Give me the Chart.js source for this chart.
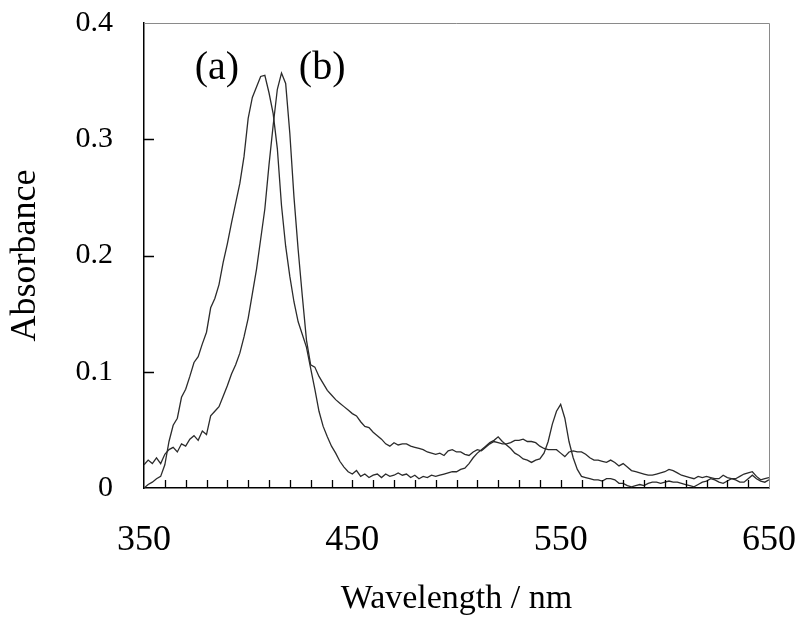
<!DOCTYPE html>
<html>
<head>
<meta charset="utf-8">
<script src="https://cdn.jsdelivr.net/npm/chart.js@4.4.1/dist/chart.umd.min.js"></script>
<style>
  html, body { margin: 0; padding: 0; background: #ffffff; }
  #wrap { width: 799px; height: 617px; }
</style>
</head>
<body>
<div id="wrap"><canvas id="c" width="799" height="617"></canvas></div>
<script>
// Wavelength grid (nm), 2 nm steps from 350 to 650
const wavelengths = Array.from({length: 151}, (_, i) => 350 + 2 * i);

// Curve (a): Soret band near 407 nm, bands near 520 and 550 nm
const curveA = [
  0.000,0.003,0.005,0.008,0.010,0.020,0.040,0.054,0.060,0.078,
  0.085,0.096,0.108,0.113,0.124,0.134,0.155,0.163,0.175,0.194,
  0.210,0.228,0.245,0.262,0.285,0.318,0.336,0.345,0.354,0.355,
  0.340,0.322,0.292,0.243,0.208,0.182,0.160,0.143,0.132,0.121,
  0.103,0.085,0.066,0.053,0.044,0.036,0.030,0.023,0.018,0.014,
  0.012,0.015,0.010,0.012,0.009,0.011,0.012,0.009,0.012,0.010,
  0.011,0.013,0.011,0.012,0.009,0.011,0.008,0.010,0.009,0.011,
  0.010,0.011,0.012,0.013,0.014,0.014,0.016,0.017,0.021,0.026,
  0.030,0.033,0.036,0.039,0.041,0.044,0.040,0.037,0.034,0.030,
  0.028,0.025,0.024,0.022,0.024,0.025,0.030,0.040,0.055,0.066,
  0.072,0.060,0.040,0.026,0.016,0.010,0.009,0.008,0.007,0.007,
  0.006,0.008,0.008,0.007,0.004,0.004,0.002,0.001,0.002,0.003,
  0.002,0.004,0.005,0.005,0.004,0.005,0.006,0.005,0.005,0.004,
  0.003,0.002,0.001,0.003,0.005,0.006,0.008,0.007,0.005,0.004,
  0.006,0.008,0.007,0.005,0.005,0.008,0.011,0.008,0.006,0.005,
  0.007
];

// Curve (b): Soret band near 416 nm, broad band near 530 nm
const curveB = [
  0.020,0.024,0.021,0.026,0.021,0.029,0.033,0.035,0.031,0.038,
  0.036,0.042,0.045,0.041,0.049,0.046,0.062,0.066,0.070,0.079,
  0.088,0.098,0.106,0.116,0.130,0.146,0.167,0.188,0.214,0.240,
  0.278,0.312,0.343,0.357,0.348,0.305,0.250,0.205,0.165,0.127,
  0.106,0.104,0.096,0.090,0.084,0.080,0.076,0.073,0.070,0.067,
  0.064,0.062,0.057,0.053,0.052,0.048,0.045,0.042,0.038,0.036,
  0.039,0.037,0.038,0.038,0.036,0.035,0.034,0.033,0.031,0.030,
  0.029,0.030,0.028,0.032,0.033,0.031,0.031,0.029,0.028,0.031,
  0.033,0.032,0.035,0.038,0.040,0.039,0.038,0.038,0.039,0.041,
  0.041,0.042,0.040,0.040,0.039,0.036,0.034,0.033,0.033,0.033,
  0.030,0.027,0.031,0.032,0.031,0.031,0.029,0.026,0.024,0.024,
  0.023,0.022,0.024,0.022,0.019,0.021,0.018,0.015,0.014,0.013,
  0.012,0.011,0.011,0.012,0.013,0.014,0.016,0.015,0.013,0.011,
  0.010,0.009,0.008,0.010,0.009,0.010,0.009,0.008,0.008,0.011,
  0.009,0.008,0.008,0.010,0.012,0.013,0.014,0.010,0.007,0.008,
  0.009
];

const xTickLabels = ['350', '450', '550', '650'];
const yTickLabels = ['0', '0.1', '0.2', '0.3', '0.4'];
const minorTicksX = [360,370,380,390,400,410,420,430,440,450,460,470,480,490,500,
                     510,520,530,540,550,560,570,580,590,600,610,620,630,640];
const curveNames = ['(a)', '(b)'];
const curveNameAt = [{x: 385, y: 0.361}, {x: 435.5, y: 0.361}];

const SERIF = '"Liberation Serif", "Times New Roman", serif';
const LINE = '#2b2b2b';

function fixBox(s) {
  s.paddingLeft = 0; s.paddingRight = 0; s.paddingTop = 0; s.paddingBottom = 0;
}

const framePlugin = {
  id: 'frame',
  afterDatasetsDraw(chart) {
    const {ctx, chartArea: a, scales: {x, y}} = chart;
    ctx.save();
    // top and right border (gray)
    ctx.strokeStyle = '#8a8a8a';
    ctx.lineWidth = 1;
    ctx.beginPath();
    ctx.moveTo(a.left, a.top + 0.5);
    ctx.lineTo(a.right + 0.5, a.top + 0.5);
    ctx.lineTo(a.right + 0.5, a.bottom);
    ctx.stroke();
    // inward ticks on x axis
    ctx.strokeStyle = '#000';
    ctx.lineWidth = 1.3;
    ctx.beginPath();
    minorTicksX.forEach(v => {
      const px = Math.round(x.getPixelForValue(v)) + 0.5;
      ctx.moveTo(px, a.bottom);
      ctx.lineTo(px, a.bottom - 8);
    });
    // inward ticks on y axis
    [0.1, 0.2, 0.3].forEach(v => {
      const py = Math.round(y.getPixelForValue(v)) + 0.5;
      ctx.moveTo(a.left, py);
      ctx.lineTo(a.left + 10, py);
    });
    ctx.stroke();
    // curve names
    ctx.fillStyle = '#000';
    ctx.font = '40px ' + SERIF;
    ctx.textAlign = 'center';
    ctx.textBaseline = 'middle';
    curveNames.forEach((t, i) => {
      ctx.fillText(t, x.getPixelForValue(curveNameAt[i].x), y.getPixelForValue(curveNameAt[i].y));
    });
    ctx.restore();
  }
};

new Chart(document.getElementById('c'), {
  type: 'line',
  data: {
    datasets: [
      { label: curveNames[0], data: wavelengths.map((w, i) => ({x: w, y: curveA[i]})) },
      { label: curveNames[1], data: wavelengths.map((w, i) => ({x: w, y: curveB[i]})) }
    ].map(d => Object.assign(d, {
      borderColor: LINE, borderWidth: 1.3, pointRadius: 0, tension: 0, fill: false
    }))
  },
  options: {
    responsive: false,
    animation: false,
    devicePixelRatio: 1,
    layout: { padding: { top: 23, right: 30, left: 0, bottom: 0 } },
    plugins: { legend: { display: false }, tooltip: { enabled: false } },
    scales: {
      x: {
        type: 'linear', min: 350, max: 650,
        afterFit(s) { s.height = 129; fixBox(s); },
        grid: { display: false, drawTicks: false },
        border: { display: true, color: '#000', width: 1.5 },
        ticks: {
          stepSize: 100, padding: 31, color: '#000',
          font: { family: SERIF, size: 36 },
          maxRotation: 0,
          callback: (v, i) => xTickLabels[i]
        },
        title: {
          display: true, text: 'Wavelength / nm', color: '#000',
          font: { family: SERIF, size: 34 },
          padding: { top: 0, bottom: -2 }
        }
      },
      y: {
        type: 'linear', min: 0, max: 0.4,
        afterFit(s) { s.width = 144; fixBox(s); },
        grid: { display: false, drawTicks: false },
        border: { display: true, color: '#000', width: 1.5 },
        ticks: {
          stepSize: 0.1, padding: 31, color: '#000',
          font: { family: SERIF, size: 30 },
          callback: (v, i) => yTickLabels[i]
        },
        title: {
          display: true, text: 'Absorbance', color: '#000',
          font: { family: SERIF, size: 36 },
          padding: { top: 4, bottom: 0 }
        }
      }
    }
  },
  plugins: [framePlugin]
});
</script>
</body>
</html>
